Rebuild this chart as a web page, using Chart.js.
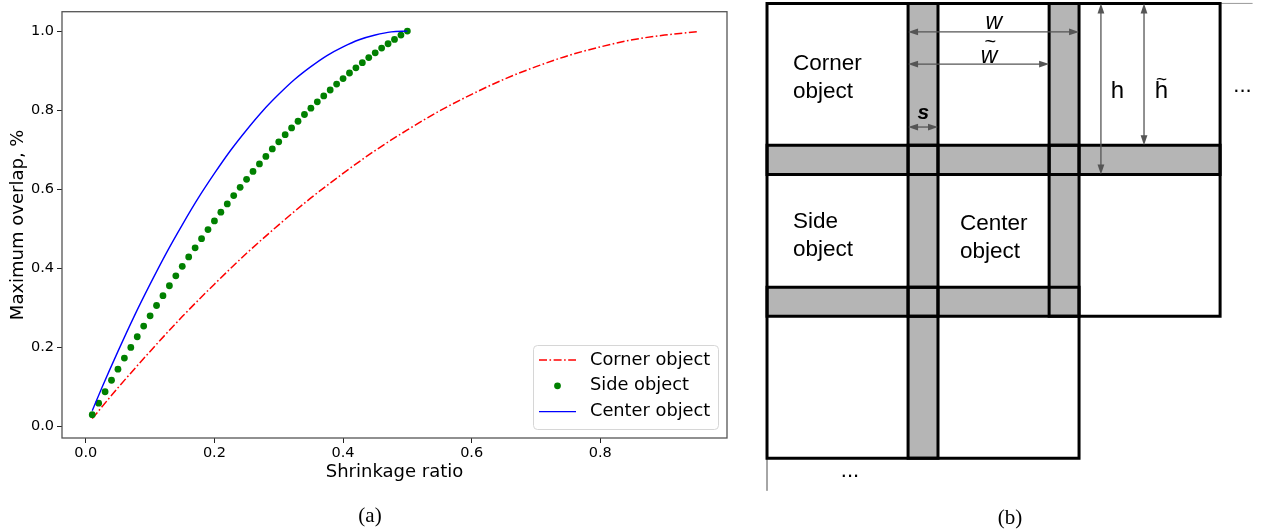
<!DOCTYPE html>
<html>
<head>
<meta charset="utf-8">
<script src="https://cdn.jsdelivr.net/npm/chart.js@4.4.1/dist/chart.umd.min.js"></script>
<style>
  html, body { margin: 0; padding: 0; background: #fff; }
  #wrap { position: relative; width: 1269px; height: 529px; overflow: hidden; }
  #plot { position: absolute; left: 0; top: 0; }
  #scheme { position: absolute; left: 740px; top: 0; }
  .caption {
    position: absolute;
    font-family: "Liberation Serif", serif;
    font-size: 21px;
    color: #000;
    transform: translate(-50%, -50%);
  }
</style>
</head>
<body>
<div id="wrap">
  <canvas id="plot" width="740" height="529"></canvas>
  <canvas id="scheme" width="529" height="529"></canvas>
  <div class="caption" style="left:370px; top:515px">(a)</div>
  <div class="caption" style="left:1010px; top:517px">(b)</div>
</div>
<script>
// ---- panel (a) data ----
const cornerX = [0.01, 0.05, 0.10, 0.15, 0.20, 0.25, 0.30, 0.35, 0.40, 0.45,
                 0.50, 0.55, 0.60, 0.65, 0.70, 0.75, 0.80, 0.85, 0.90, 0.95];
const cornerY = [0.020, 0.098, 0.190, 0.278, 0.360, 0.438, 0.510, 0.578, 0.640, 0.698,
                 0.750, 0.798, 0.840, 0.878, 0.910, 0.938, 0.960, 0.978, 0.990, 0.998];

const sideX = [0.01, 0.02, 0.03, 0.04, 0.05, 0.06, 0.07, 0.08, 0.09, 0.10,
               0.11, 0.12, 0.13, 0.14, 0.15, 0.16, 0.17, 0.18, 0.19, 0.20,
               0.21, 0.22, 0.23, 0.24, 0.25, 0.26, 0.27, 0.28, 0.29, 0.30,
               0.31, 0.32, 0.33, 0.34, 0.35, 0.36, 0.37, 0.38, 0.39, 0.40,
               0.41, 0.42, 0.43, 0.44, 0.45, 0.46, 0.47, 0.48, 0.49, 0.50];
const sideY = [0.030, 0.059, 0.088, 0.117, 0.145, 0.173, 0.200, 0.227, 0.254, 0.280,
               0.306, 0.331, 0.356, 0.381, 0.405, 0.429, 0.452, 0.475, 0.498, 0.520,
               0.542, 0.563, 0.584, 0.605, 0.625, 0.645, 0.664, 0.683, 0.702, 0.720,
               0.738, 0.755, 0.772, 0.789, 0.805, 0.821, 0.836, 0.851, 0.866, 0.880,
               0.894, 0.907, 0.920, 0.933, 0.945, 0.957, 0.968, 0.979, 0.990, 1.000];

const centerX = [0.01, 0.025, 0.05, 0.075, 0.10, 0.125, 0.15, 0.175, 0.20, 0.225, 0.25,
                 0.275, 0.30, 0.325, 0.35, 0.375, 0.40, 0.425, 0.45, 0.475, 0.50];
const centerY = [0.040, 0.098, 0.190, 0.278, 0.360, 0.438, 0.510, 0.578, 0.640, 0.698, 0.750,
                 0.798, 0.840, 0.878, 0.910, 0.938, 0.960, 0.978, 0.990, 0.998, 1.000];

const xTicks = [0.0, 0.2, 0.4, 0.6, 0.8];
const yTicks = [0.0, 0.2, 0.4, 0.6, 0.8, 1.0];

// ---- panel (b) layout: objects of size w x h placed with step w~ / h~ ----
const objW = 1.0, objH = 1.0;
const stepX = 0.825, stepY = 0.83;
const objectCells = [[0, 0], [0, 1], [0, 2], [1, 0], [1, 1], [1, 2], [2, 0], [2, 1]]; // [row, col]

function zip(xs, ys) {
  return xs.map((x, i) => ({ x: x, y: ys[i] }));
}

Chart.defaults.font.family = '"DejaVu Sans", sans-serif';
Chart.defaults.color = '#000';

const frameAndLegend = {
  id: 'frameAndLegend',
  afterDatasetsDraw(chart) {
    const { ctx, chartArea: a } = chart;
    ctx.save();
    ctx.strokeStyle = '#555';
    ctx.lineWidth = 1.3;
    ctx.strokeRect(a.left, a.top, a.right - a.left, a.bottom - a.top);

    const bw = 185, bh = 84;
    const bx = a.right - 9 - bw, by = a.bottom - 9 - bh;
    ctx.beginPath();
    ctx.roundRect(bx + 0.5, by + 0.5, bw, bh, 4);
    ctx.fillStyle = 'rgba(255,255,255,0.8)';
    ctx.fill();
    ctx.strokeStyle = '#d6d6d6';
    ctx.lineWidth = 1;
    ctx.stroke();

    ctx.font = '17.8px "DejaVu Sans"';
    ctx.textBaseline = 'middle';
    chart.data.datasets.forEach((ds, i) => {
      const cy = by + 15 + i * 25.8;
      const hx0 = bx + 6, hx1 = bx + 43;
      if (ds.showLine === false) {
        ctx.beginPath();
        ctx.arc((hx0 + hx1) / 2, cy, ds.pointRadius, 0, Math.PI * 2);
        ctx.fillStyle = ds.pointBackgroundColor;
        ctx.fill();
      } else {
        ctx.beginPath();
        ctx.setLineDash(ds.borderDash || []);
        ctx.strokeStyle = ds.borderColor;
        ctx.lineWidth = ds.borderWidth;
        ctx.moveTo(hx0, cy);
        ctx.lineTo(hx1, cy);
        ctx.stroke();
        ctx.setLineDash([]);
      }
      ctx.fillStyle = '#000';
      ctx.fillText(ds.label, bx + 57, cy);
    });
    ctx.restore();
  }
};

new Chart(document.getElementById('plot'), {
  type: 'line',
  data: {
    datasets: [
      {
        label: 'Corner object',
        data: zip(cornerX, cornerY),
        borderColor: '#ff0000',
        borderWidth: 1.5,
        borderDash: [8, 2.5, 1.6, 2.5],
        pointRadius: 0,
        cubicInterpolationMode: 'monotone',
        fill: false,
        order: 2
      },
      {
        label: 'Side object',
        data: zip(sideX, sideY),
        showLine: false,
        pointRadius: 3.4,
        pointBackgroundColor: '#008000',
        pointBorderColor: '#008000',
        pointBorderWidth: 0,
        order: 1
      },
      {
        label: 'Center object',
        data: zip(centerX, centerY),
        borderColor: '#0000ff',
        borderWidth: 1.4,
        pointRadius: 0,
        cubicInterpolationMode: 'monotone',
        fill: false,
        order: 0
      }
    ]
  },
  options: {
    responsive: false,
    animation: false,
    devicePixelRatio: 1,
    layout: { padding: { top: 6, right: 13, left: 0, bottom: 0 } },
    plugins: { legend: { display: false }, tooltip: { enabled: false } },
    scales: {
      x: {
        type: 'linear',
        min: -0.037,
        max: 0.997,
        afterBuildTicks: s => { s.ticks = xTicks.map(v => ({ value: v })); },
        afterFit: s => { s.height = 91; },
        ticks: { font: { size: 14.5 }, padding: 2, callback: v => v.toFixed(1), maxRotation: 0 },
        grid: { drawOnChartArea: false, drawTicks: true, tickLength: 5, color: '#222' },
        border: { display: false },
        title: { display: true, text: 'Shrinkage ratio', font: { size: 18 }, padding: { top: 0, bottom: 46 } }
      },
      y: {
        type: 'linear',
        min: -0.029,
        max: 1.049,
        afterBuildTicks: s => { s.ticks = yTicks.map(v => ({ value: v })); },
        afterFit: s => { s.width = 62; },
        ticks: { font: { size: 14.5 }, padding: 3, callback: v => v.toFixed(1) },
        grid: { drawOnChartArea: false, drawTicks: true, tickLength: 5, color: '#222' },
        border: { display: false },
        title: { display: true, text: 'Maximum overlap, %', font: { size: 18 }, padding: { top: 8, bottom: 0 } }
      }
    }
  },
  plugins: [frameAndLegend]
});

// ---- panel (b) ----
function cellRect(r, c) {
  const x0 = c * stepX, y0 = r * stepY;
  return { x0: x0, y0: y0, x1: x0 + objW, y1: y0 + objH };
}
const hasCell = (r, c) => objectCells.some(([rr, cc]) => rr === r && cc === c);

const overlaps = [];
objectCells.forEach(([r, c]) => {
  const a = cellRect(r, c);
  if (hasCell(r, c + 1)) {
    const b = cellRect(r, c + 1);
    overlaps.push({ x0: b.x0, x1: a.x1, y0: a.y0, y1: a.y1 });
  }
  if (hasCell(r + 1, c)) {
    const b = cellRect(r + 1, c);
    overlaps.push({ x0: a.x0, x1: a.x1, y0: b.y0, y1: a.y1 });
  }
});

const schemeSets = [];
overlaps.forEach(o => {
  schemeSets.push({
    data: [{ x: o.x0, y: o.y1 }, { x: o.x1, y: o.y1 }],
    fill: { value: o.y0 },
    backgroundColor: '#b5b5b5',
    borderWidth: 0,
    pointRadius: 0,
    order: 3
  });
});
objectCells.forEach(([r, c]) => {
  const q = cellRect(r, c);
  schemeSets.push({
    data: [{ x: q.x0, y: q.y0 }, { x: q.x1, y: q.y0 }, { x: q.x1, y: q.y1 },
           { x: q.x0, y: q.y1 }, { x: q.x0, y: q.y0 }],
    borderColor: '#000',
    borderWidth: 3,
    borderJoinStyle: 'miter',
    borderCapStyle: 'square',
    pointRadius: 0,
    fill: false,
    order: 1
  });
});
// thin frame leftovers at top right and bottom left
const lastRight = 2 * stepX + objW, lastBottom = 2 * stepY + objH;
schemeSets.push({
  data: [{ x: lastRight, y: 0 }, { x: lastRight + 0.19, y: 0 }],
  borderColor: '#999', borderWidth: 1, pointRadius: 0, fill: false, order: 2
});
schemeSets.push({
  data: [{ x: 0, y: lastBottom }, { x: 0, y: lastBottom + 0.19 }],
  borderColor: '#999', borderWidth: 1, pointRadius: 0, fill: false, order: 2
});

const dimArrows = [
  { from: [stepX, 0.167], to: [stepX + objW, 0.167] },   // w
  { from: [stepX, 0.355], to: [2 * stepX, 0.355] },      // w~
  { from: [stepX, 0.723], to: [objW, 0.723] },           // s
  { from: [1.953, 0], to: [1.953, objH] },               // h
  { from: [2.205, 0], to: [2.205, stepY] }               // h~
];

const schemeLabels = {
  id: 'schemeLabels',
  afterDatasetsDraw(chart) {
    const { ctx, scales: { x, y } } = chart;
    const px = u => x.getPixelForValue(u);
    const py = v => y.getPixelForValue(v);
    ctx.save();

    const L = 10, W = 3.4;
    ctx.strokeStyle = '#555';
    ctx.fillStyle = '#555';
    ctx.lineWidth = 1.3;
    function head(hx, hy, ang) {
      ctx.beginPath();
      ctx.moveTo(hx, hy);
      ctx.lineTo(hx - L * Math.cos(ang) + W * Math.sin(ang), hy - L * Math.sin(ang) - W * Math.cos(ang));
      ctx.lineTo(hx - L * Math.cos(ang) - W * Math.sin(ang), hy - L * Math.sin(ang) + W * Math.cos(ang));
      ctx.closePath();
      ctx.fill();
    }
    dimArrows.forEach(a => {
      const x0 = px(a.from[0]), y0 = py(a.from[1]), x1 = px(a.to[0]), y1 = py(a.to[1]);
      const ang = Math.atan2(y1 - y0, x1 - x0);
      ctx.beginPath();
      ctx.moveTo(x0 + (L - 1) * Math.cos(ang), y0 + (L - 1) * Math.sin(ang));
      ctx.lineTo(x1 - (L - 1) * Math.cos(ang), y1 - (L - 1) * Math.sin(ang));
      ctx.stroke();
      head(x1, y1, ang);
      head(x0, y0, ang + Math.PI);
    });

    ctx.fillStyle = '#000';
    ctx.textBaseline = 'alphabetic';
    const sans = '"Liberation Sans", Arial, sans-serif';
    const text = (t, u, v, font, align) => {
      ctx.font = font;
      ctx.textAlign = align;
      ctx.fillText(t, px(u), py(v));
    };
    const body = '22.5px ' + sans;
    text('Corner', 0.152, 0.389, body, 'left');
    text('object', 0.152, 0.553, body, 'left');
    text('Side', 0.152, 1.313, body, 'left');
    text('object', 0.152, 1.477, body, 'left');
    text('Center', 1.129, 1.325, body, 'left');
    text('object', 1.129, 1.489, body, 'left');

    text('w', 1.327, 0.150, 'italic 23px ' + sans, 'center');
    text('w', 1.298, 0.349, 'italic 23px ' + sans, 'center');
    text('~', 1.306, 0.262, '20px ' + sans, 'center');
    text('s', 0.915, 0.676, 'italic bold 21px ' + sans, 'center');
    text('h', 2.05, 0.553, '24px ' + sans, 'center');
    text('h', 2.307, 0.553, '24px ' + sans, 'center');
    text('~', 2.307, 0.475, '19px ' + sans, 'center');
    text('...', 2.781, 0.518, '22px ' + sans, 'center');
    text('...', 0.485, 2.772, '22px ' + sans, 'center');
    ctx.restore();
  }
};

new Chart(document.getElementById('scheme'), {
  type: 'line',
  data: { datasets: schemeSets },
  options: {
    responsive: false,
    animation: false,
    devicePixelRatio: 1,
    layout: { padding: 0 },
    plugins: { legend: { display: false }, tooltip: { enabled: false } },
    scales: {
      x: { type: 'linear', display: false, min: -0.158, max: 2.936 },
      y: { type: 'linear', display: false, reverse: true, min: -0.02, max: 3.074 }
    }
  },
  plugins: [schemeLabels]
});
</script>
</body>
</html>
